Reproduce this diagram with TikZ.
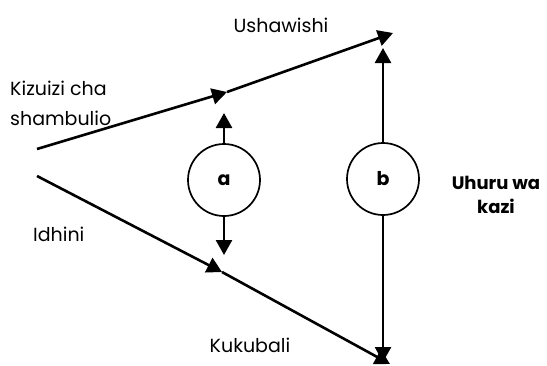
\documentclass[tikz,border=0pt]{standalone}
\usepackage{fontspec}
\setmainfont{Poppins}
\usetikzlibrary{arrows.meta}
\begin{document}
\begin{tikzpicture}[x=1pt,y=-1pt,
  conn/.style={line width=2.6pt,-{Triangle[length=15pt,width=16pt]}},
  circ/.style={circle,draw,line width=1.7pt,minimum size=72pt,inner sep=0pt,font=\fontsize{19}{22}\selectfont\bfseries},
  lbl/.style={font=\fontsize{19}{22}\selectfont,inner sep=0pt},
  blbl/.style={font=\fontsize{18}{24}\selectfont\bfseries,inner sep=0pt,align=center}]
\useasboundingbox (0,0) rectangle (547,365);
\coordinate (s1) at (37,149);
\coordinate (m1) at (227,92);
\coordinate (e1) at (393,33);
\coordinate (s2) at (37,176);
\coordinate (m2) at (222,272);
\coordinate (e2) at (390,364);
\node[circ] (a) at (224,180) {a};
\node[circ] (b) at (383,179) {b};
\coordinate (au) at (224,113);
\coordinate (ad) at (224,255);
\coordinate (bu) at (383,48);
\coordinate (bd) at (383,362);
\draw[conn] (s1) -- (m1);
\draw[conn] (m1) -- (e1);
\draw[conn] (s2) -- (m2);
\draw[conn] (m2) -- (e2);
\draw[conn] (a.north) -- (au);
\draw[conn] (a.south) -- (ad);
\draw[conn] (b.north) -- (bu);
\draw[conn] (b.south) -- (bd);
\node[lbl] (t1) at (281,25) {Ushawishi};
\node[lbl,anchor=west] (t2) at (10,88) {Kizuizi cha};
\node[lbl,anchor=west] (t3) at (10,118) {shambulio};
\node[lbl,anchor=west] (t4) at (33,234) {Idhini};
\node[lbl] (t5) at (250,345) {Kukubali};
\node[blbl] (t6) at (496,195) {Uhuru wa\\kazi};
\end{tikzpicture}
\end{document}
